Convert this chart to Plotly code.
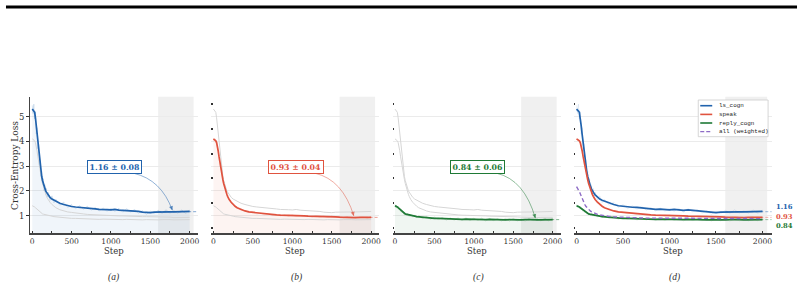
import plotly.graph_objects as go

# ---------------- data ----------------
steps = [0, 10, 20, 30, 40, 50, 60, 70, 80, 90, 100, 110, 120, 130, 140, 150, 160, 170, 180, 190, 200,
         225, 250, 275,
         300, 350, 400, 450, 500, 550, 600, 650, 700, 750, 800, 850, 900, 950, 1000, 1050, 1100,
         1150, 1200, 1250, 1300, 1350, 1400, 1450, 1500, 1550, 1600, 1650, 1700, 1750, 1800, 1850,
         1900, 1950, 2000]

ls_cogn = [5.30, 5.27, 5.22, 5.17, 4.95, 4.62, 4.28, 3.95, 3.63, 3.30, 3.00, 2.78, 2.58, 2.42, 2.30,
           2.18, 2.08, 2.00, 1.95, 1.89, 1.84,
           1.74, 1.67, 1.62,
           1.58, 1.50, 1.45, 1.40, 1.37, 1.35, 1.34, 1.33, 1.31, 1.28, 1.27, 1.25, 1.26, 1.24, 1.23,
           1.25, 1.22, 1.21, 1.23, 1.21, 1.19, 1.17, 1.14, 1.12, 1.12, 1.14, 1.15, 1.16, 1.17, 1.15,
           1.15, 1.16, 1.17, 1.16, 1.17]
ls_cogn_raw = [5.45, 5.12, 5.50, 4.90, 5.20, 4.30, 4.55, 3.70, 3.90, 3.05, 3.25, 2.60, 2.80, 2.25, 2.50,
               2.00, 2.25, 1.85, 2.10, 1.75, 1.95,
               1.62, 1.80, 1.52,
               1.66, 1.42, 1.55, 1.33, 1.45, 1.28, 1.40, 1.26, 1.38, 1.22, 1.33, 1.19, 1.31, 1.18, 1.29,
               1.17, 1.30, 1.14, 1.28, 1.15, 1.25, 1.10, 1.20, 1.05, 1.18, 1.08, 1.22, 1.09, 1.24, 1.10,
               1.21, 1.10, 1.23, 1.09, 1.22]

speak = [4.10, 4.08, 4.05, 4.02, 3.95, 3.82, 3.62, 3.40, 3.18, 2.98, 2.80, 2.62, 2.45, 2.30, 2.17,
         2.05, 1.95, 1.86, 1.78, 1.71, 1.65,
         1.54, 1.45, 1.38,
         1.32, 1.24, 1.19, 1.15, 1.13, 1.10, 1.08, 1.07, 1.05, 1.04, 1.03, 1.02, 1.02, 1.01, 1.01,
         1.00, 0.99, 0.99, 0.98, 0.98, 0.97, 0.97, 0.96, 0.96, 0.96, 0.95, 0.94, 0.93, 0.93, 0.94,
         0.92, 0.93, 0.93, 0.92, 0.93]
speak_raw = [4.12, 4.02, 4.10, 3.96, 3.98, 3.75, 3.66, 3.33, 3.22, 2.92, 2.85, 2.56, 2.50, 2.24, 2.22,
             2.00, 1.99, 1.82, 1.81, 1.68, 1.68,
             1.50, 1.48, 1.35,
             1.34, 1.21, 1.21, 1.12, 1.15, 1.07, 1.10, 1.04, 1.07, 1.01, 1.05, 0.99, 1.04, 0.98, 1.03,
             0.97, 1.01, 0.96, 1.00, 0.95, 0.99, 0.94, 0.98, 0.93, 0.98, 0.93, 0.96, 0.91, 0.95, 0.92,
             0.94, 0.91, 0.95, 0.90, 0.95]

reply_cogn = [1.40, 1.39, 1.37, 1.35, 1.32, 1.29, 1.26, 1.22, 1.19, 1.16, 1.13, 1.11, 1.09, 1.07, 1.06,
              1.05, 1.04, 1.03, 1.02, 1.01, 1.00,
              0.99, 0.98, 0.96,
              0.95, 0.93, 0.92, 0.90, 0.89, 0.89, 0.88, 0.87, 0.86, 0.87, 0.86, 0.85, 0.86, 0.85, 0.85,
              0.86, 0.85, 0.84, 0.85, 0.84, 0.85, 0.84, 0.83, 0.84, 0.83, 0.84, 0.83, 0.84, 0.85, 0.84,
              0.83, 0.84, 0.85, 0.84, 0.84]
reply_cogn_raw = [1.46, 1.33, 1.42, 1.30, 1.37, 1.25, 1.31, 1.17, 1.24, 1.11, 1.18, 1.06, 1.14, 1.02, 1.11,
                  1.00, 1.09, 0.98, 1.07, 0.96, 1.05,
                  0.94, 1.03, 0.91,
                  1.00, 0.88, 0.97, 0.85, 0.94, 0.84, 0.93, 0.82, 0.91, 0.82, 0.91, 0.80, 0.91, 0.80, 0.90,
                  0.81, 0.90, 0.79, 0.89, 0.80, 0.88, 0.79, 0.89, 0.78, 0.89, 0.79, 0.88, 0.78, 0.90, 0.79,
                  0.89, 0.79, 0.90, 0.79, 0.89]

all_weighted = [2.17, 2.12, 2.05, 1.97, 1.88, 1.78, 1.68, 1.59, 1.51, 1.44, 1.38, 1.33, 1.28, 1.24, 1.21,
                1.18, 1.16, 1.14, 1.12, 1.10, 1.08,
                1.05, 1.03, 1.01,
                0.99, 0.97, 0.95, 0.94, 0.93, 0.92, 0.92, 0.91, 0.91, 0.90, 0.90, 0.90, 0.90, 0.89, 0.89,
                0.90, 0.89, 0.89, 0.89, 0.88, 0.89, 0.88, 0.88, 0.88, 0.88, 0.88, 0.87, 0.88, 0.88, 0.87,
                0.88, 0.88, 0.87, 0.88, 0.88]

series_names = ["ls_cogn", "speak", "reply_cogn"]
series_means = [1.16, 0.93, 0.84]
series_stats = ["1.16 ± 0.08", "0.93 ± 0.04", "0.84 ± 0.06"]
panel_labels = ["(a)", "(b)", "(c)", "(d)"]
x_ticks = [0, 500, 1000, 1500, 2000]
x_minor_ticks = [250, 750, 1250, 1750]
y_ticks = [1, 2, 3, 4, 5]
y_dot_ticks = [0.5, 1.5, 2.5, 3.5, 4.5, 5.5]
window = [1600, 2050]

smooth = {"ls_cogn": ls_cogn, "speak": speak, "reply_cogn": reply_cogn}
raw = {"ls_cogn": ls_cogn_raw, "speak": speak_raw, "reply_cogn": reply_cogn_raw}

# ---------------- style ----------------
W, H = 804, 289
colors = {"ls_cogn": "#2163ad", "speak": "#e0533f", "reply_cogn": "#1f7a36"}
rgb = {"ls_cogn": (33, 99, 173), "speak": (224, 83, 63), "reply_cogn": (31, 122, 54)}
purple = "#8e6cc6"
SERIF = "DejaVu Serif"
MONO = "Liberation Mono"


def rgba(name, a):
    r, g, b = rgb[name]
    return f"rgba({r},{g},{b},{a})"


def pxx(x):
    return x / W


def pxy(y):
    return 1 - y / H


domains_x = [(30, 198), (211.6, 380), (393.6, 562), (575.2, 773.7)]
dom_y = [pxy(233), pxy(96.7)]
X_RANGE = [-30, 2100]
Y_RANGE = [0.3, 5.8]

fig = go.Figure()

for i in range(4):
    xa = "x" if i == 0 else f"x{i+1}"
    ya = "y" if i == 0 else f"y{i+1}"
    if i < 3:
        main = series_names[i]
        others = [s for s in series_names if s != main]
        fig.add_trace(go.Scatter(x=steps, y=raw[main], mode="lines", xaxis=xa, yaxis=ya,
                                 line=dict(color=rgba(main, 0.2), width=0.8),
                                 fill="tozeroy", fillcolor=rgba(main, 0.065),
                                 showlegend=False, hoverinfo="skip"))
        for o in others:
            fig.add_trace(go.Scatter(x=steps, y=smooth[o], mode="lines", xaxis=xa, yaxis=ya,
                                     line=dict(color="#d6d6d6", width=1),
                                     showlegend=False, hoverinfo="skip"))
        fig.add_trace(go.Scatter(x=[window[0], X_RANGE[1]], y=[series_means[i]] * 2, mode="lines",
                                 xaxis=xa, yaxis=ya,
                                 line=dict(color=rgba(main, 0.55), width=1, dash="3px,2px"),
                                 showlegend=False, hoverinfo="skip"))
        fig.add_trace(go.Scatter(x=steps, y=smooth[main], mode="lines", xaxis=xa, yaxis=ya,
                                 line=dict(color=colors[main], width=1.7),
                                 showlegend=False, hoverinfo="skip"))
    else:
        for s in series_names:
            fig.add_trace(go.Scatter(x=steps, y=raw[s], mode="lines", xaxis=xa, yaxis=ya,
                                     line=dict(color=rgba(s, 0.12), width=0.8),
                                     showlegend=False, hoverinfo="skip"))
        for k, s in enumerate(series_names):
            fig.add_trace(go.Scatter(x=[window[0], X_RANGE[1]], y=[series_means[k]] * 2, mode="lines",
                                     xaxis=xa, yaxis=ya,
                                     line=dict(color=rgba(s, 0.45), width=1, dash="3px,2px"),
                                     showlegend=False, hoverinfo="skip"))
        for s in series_names:
            fig.add_trace(go.Scatter(x=steps, y=smooth[s], mode="lines", xaxis=xa, yaxis=ya,
                                     line=dict(color=colors[s], width=1.7),
                                     showlegend=False, hoverinfo="skip"))
        fig.add_trace(go.Scatter(x=steps, y=all_weighted, mode="lines", xaxis=xa, yaxis=ya,
                                 line=dict(color=purple, width=1.4, dash="4px,2.5px"),
                                 showlegend=False, hoverinfo="skip"))

shapes = []
annotations = []
layout_axes = {}
for i in range(4):
    xname = "xaxis" if i == 0 else f"xaxis{i+1}"
    yname = "yaxis" if i == 0 else f"yaxis{i+1}"
    xa = "x" if i == 0 else f"x{i+1}"
    ya = "y" if i == 0 else f"y{i+1}"
    x0, x1 = domains_x[i]
    layout_axes[xname] = dict(
        domain=[pxx(x0), pxx(x1)], range=X_RANGE, anchor=ya,
        tickmode="array", tickvals=x_ticks, ticks="inside", ticklen=2.5, tickwidth=1,
        tickcolor="#333", showline=True, linecolor="#444", linewidth=1.6,
        showgrid=False, zeroline=False,
        tickfont=dict(family=SERIF, size=7.6, color="#333"),
        minor=dict(tickmode="array", tickvals=x_minor_ticks, ticks="inside", ticklen=2.5,
                   tickwidth=1, tickcolor="#333", showgrid=False),
    )
    ya_cfg = dict(
        domain=dom_y, range=Y_RANGE, anchor=xa,
        tickmode="array", tickvals=y_ticks, showgrid=True, gridcolor="#ebebeb", gridwidth=1,
        zeroline=False,
    )
    if i == 0:
        ya_cfg.update(ticks="outside", ticklen=2.5, tickwidth=1, tickcolor="#333",
                      showline=True, linecolor="#444", linewidth=1.4,
                      tickfont=dict(family=SERIF, size=8.5, color="#333"))
    else:
        ya_cfg.update(ticks="", showticklabels=False, showline=False,
                      minor=dict(tickmode="array", tickvals=y_dot_ticks, ticks="inside",
                                 ticklen=1.5, tickwidth=1.6, tickcolor="#333", showgrid=False))
    layout_axes[yname] = ya_cfg

    shapes.append(dict(type="rect", xref=xa, yref=f"{ya} domain", x0=window[0], x1=window[1],
                       y0=0, y1=1, fillcolor="#f0f0f0", line=dict(width=0), layer="below"))

    cx = pxx((x0 + x1) / 2)
    annotations.append(dict(text="Step", xref="paper", yref="paper", x=cx, y=pxy(251),
                            showarrow=False, font=dict(family=SERIF, size=8.5, color="#333"),
                            xanchor="center", yanchor="middle"))
    annotations.append(dict(text=f"<i>{panel_labels[i]}</i>", xref="paper", yref="paper",
                            x=pxx([114, 297, 480, 676][i]), y=pxy(277), showarrow=False,
                            font=dict(family="Liberation Serif", size=9.5, color="#333"),
                            xanchor="center", yanchor="middle"))

    if i < 3:
        main = series_names[i]
        annotations.append(dict(text=f"<b>{series_stats[i]}</b>", xref=xa, yref=ya, x=1050, y=2.95,
                                showarrow=False, font=dict(family=SERIF, size=7.8, color=colors[main]),
                                bgcolor="white", bordercolor=colors[main], borderwidth=1, borderpad=1.5))
        tx, ty = 1290, 2.71
        hx, hy = 1780, series_means[i] + 0.06
        qx, qy = 1640, 2.45
        shapes.append(dict(type="path", xref=xa, yref=ya,
                           path=f"M {tx},{ty} Q {qx},{qy} {hx},{hy}",
                           line=dict(color=rgba(main, 0.55), width=0.9)))
        annotations.append(dict(text="", xref=xa, yref=ya, x=hx, y=hy, axref=xa, ayref=ya,
                                ax=hx - 0.12 * (hx - qx), ay=hy - 0.12 * (hy - qy),
                                showarrow=True, arrowhead=2, arrowsize=0.9, arrowwidth=0.9,
                                arrowcolor=rgba(main, 0.7)))

annotations.append(dict(text="Cross-Entropy Loss", xref="paper", yref="paper", x=pxx(15), y=pxy(165),
                        textangle=-90, showarrow=False, font=dict(family=SERIF, size=9, color="#333"),
                        xanchor="center", yanchor="middle"))

label_shift = [5.0, 0.3, -6.5]
for k, s in enumerate(series_names):
    annotations.append(dict(text=f"<b>{series_means[k]:.2f}</b>", xref="x4 domain", yref="y4",
                            x=1.015, y=series_means[k], yshift=label_shift[k], showarrow=False,
                            xanchor="left", yanchor="middle", borderpad=0,
                            font=dict(family=SERIF, size=6.8, color=colors[s])))

shapes.append(dict(type="rect", xref="paper", yref="paper", x0=pxx(700), x1=pxx(770),
                   y0=pxy(136.7), y1=pxy(100), fillcolor="white",
                   line=dict(color="#cccccc", width=0.8), layer="above"))
legend_items = series_names + ["all (weighted)"]
legend_colors = [colors[s] for s in series_names] + [purple]
legend_y = [105.7, 114.4, 123.0, 131.7]
for k, name in enumerate(legend_items):
    shapes.append(dict(type="line", xref="paper", yref="paper", x0=pxx(702), x1=pxx(714),
                       y0=pxy(legend_y[k]), y1=pxy(legend_y[k]),
                       line=dict(color=legend_colors[k], width=1.6 if k < 3 else 1.3,
                                 dash="solid" if k < 3 else "4px,2px"), layer="above"))
    annotations.append(dict(text=name, xref="paper", yref="paper", x=pxx(719), y=pxy(legend_y[k]),
                            showarrow=False, xanchor="left", yanchor="middle",
                            font=dict(family=MONO, size=5.9, color="#222")))

shapes.append(dict(type="rect", xref="paper", yref="paper", x0=pxx(6), x1=pxx(799),
                   y0=pxy(8.5), y1=pxy(5.5), fillcolor="black", line=dict(width=0)))

fig.update_layout(
    width=W, height=H, autosize=False,
    margin=dict(l=0, r=0, t=0, b=0),
    paper_bgcolor="white", plot_bgcolor="white",
    showlegend=False,
    shapes=shapes, annotations=annotations,
    **layout_axes,
)

fig.write_html("out.html")
